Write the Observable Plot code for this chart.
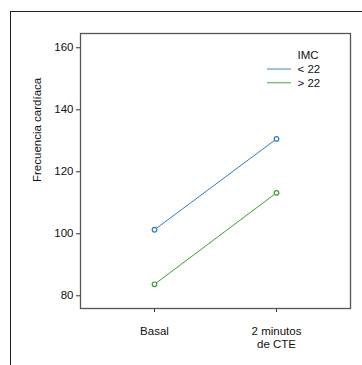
<!DOCTYPE html>
<html>
<head>
<meta charset="utf-8">
<script src="https://cdn.jsdelivr.net/npm/d3@7"></script>
<script src="https://cdn.jsdelivr.net/npm/@observablehq/plot@0.6"></script>
<style>
  html, body { margin: 0; padding: 0; background: #fff; }
  #wrap { position: relative; width: 362px; height: 365px; overflow: hidden; }
  #outer { position: absolute; left: 10px; top: 11px; width: 400px; height: 400px; border-left: 1px solid #222; border-top: 1px solid #222; box-sizing: border-box; }
  #chart { position: absolute; left: 0; top: 0; }
</style>
</head>
<body>
<div id="wrap"><div id="outer"></div><div id="chart"></div></div>
<script>
const times = ["Basal", "2 minutos\nde CTE"];
const groups = ["< 22", "> 22"];
const colors = ["#2f7cc4", "#3f9a35"];
const valuesLow = [101.3, 130.6];   // IMC < 22
const valuesHigh = [83.7, 113.2];   // IMC > 22
const yTicks = [80, 100, 120, 140, 160];
const legendTitle = "IMC";
const yLabel = "Frecuencia cardíaca";

const data = [];
times.forEach((t, i) => {
  data.push({time: t, group: groups[0], hr: valuesLow[i]});
  data.push({time: t, group: groups[1], hr: valuesHigh[i]});
});

const font = "Liberation Sans, Arial, Helvetica, sans-serif";
const legendX = 217;   // offset from the frame's left edge
const legendY0 = 22.3; // offset from the frame's top edge
const legendStep = 13.7;

const legendMarks = [
  Plot.text([legendTitle], {text: d => d, frameAnchor: "top-left", textAnchor: "start", lineAnchor: "middle",
    dx: legendX, dy: legendY0, fontSize: 11.5, fill: "#111"})
];
groups.forEach((grp, i) => {
  legendMarks.push(Plot.text([grp], {text: d => d, frameAnchor: "top-left", textAnchor: "start", lineAnchor: "middle",
    dx: legendX, dy: legendY0 + (i + 1) * legendStep, fontSize: 11.5, fill: "#111"}));
});

const plot = Plot.plot({
  width: 362,
  height: 365,
  marginLeft: 80,
  marginTop: 33,
  marginRight: 12,
  marginBottom: 57,
  style: {fontFamily: font, fontSize: "11.5px", color: "#111", background: "transparent"},
  x: {type: "point", domain: times, padding: 0.6},
  y: {domain: [75.9, 164.6]},
  color: {domain: groups, range: colors},
  marks: [
    Plot.axisY({ticks: yTicks, tickSize: 4, tickPadding: 3, label: null, stroke: "#333"}),
    Plot.axisX({tickSize: 4, tickPadding: 13, label: null, lineHeight: 1.15, stroke: "#333"}),
    Plot.frame({stroke: "#555", strokeWidth: 1.3}),
    Plot.line(data, {x: "time", y: "hr", z: "group", stroke: "group", strokeWidth: 1}),
    Plot.dot(data, {x: "time", y: "hr", stroke: "group", r: 2.3, strokeWidth: 1.2, fill: "white"}),
    Plot.text([yLabel], {text: d => d, frameAnchor: "left", rotate: -90, dx: -43, dy: 11, fontSize: 11.5, fill: "#111"}),
    ...legendMarks
  ]
});

document.getElementById("chart").appendChild(plot);

// legend line swatches, drawn to the left of each legend label
const svg = d3.select(plot);
const g = svg.append("g");
groups.forEach((grp, i) => {
  const y = 33 + legendY0 + (i + 1) * legendStep;
  g.append("line").attr("x1", 267).attr("x2", 291).attr("y1", y).attr("y2", y)
    .attr("stroke", colors[i]).attr("stroke-width", 1.3).attr("opacity", 0.7);
});
</script>
</body>
</html>
